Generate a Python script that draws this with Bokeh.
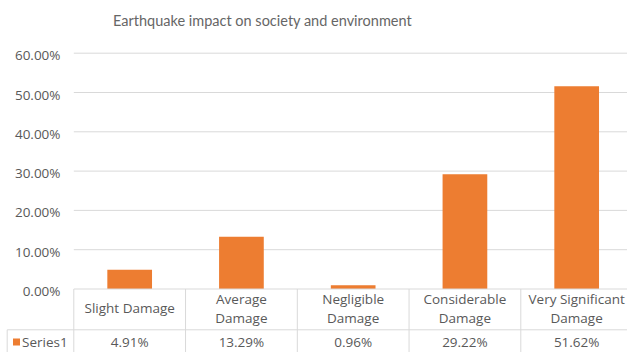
from bokeh.plotting import figure
from bokeh.models import ColumnDataSource, Range1d
from bokeh.core.properties import value
from bokeh.embed import file_html
from bokeh.resources import INLINE

# ---- data -------------------------------------------------------------
categories = ["Slight Damage", "Average\nDamage", "Negligible\nDamage",
              "Considerable\nDamage", "Very Significant\nDamage"]
series_name = "Series1"
impact_pct = [4.91, 13.29, 0.96, 29.22, 51.62]
y_ticks = [0, 10, 20, 30, 40, 50, 60]
title_text = "Earthquake impact on society and environment"

# ---- layout (pixels) --------------------------------------------------
W, H = 627, 352
PLOT_LEFT = 73.3          # left edge of the category area
CAT_W = 111.75            # width of one category column
ZERO_Y = 288.5            # pixel row of the 0% line
PX_PER_PCT = 3.93         # pixels per percentage point
ROW_SPLIT_Y = 329.3       # boundary between category row and value row
TABLE_LEFT = 6.7          # left border of the series-name cell

FONT = "Open Sans"
TITLE_FONT = "Lato"
TXT = "#595959"
TITLE_TXT = "#666666"
LINE = "#D9D9D9"
BAR = "#ED7D31"


def xd(px):
    return (px - PLOT_LEFT) / CAT_W


def yd(px):
    return (ZERO_Y - px) / PX_PER_PCT


p = figure(width=W, height=H, output_backend="svg", toolbar_location=None,
           x_axis_type=None, y_axis_type=None,
           x_range=Range1d(xd(0), xd(W)), y_range=Range1d(yd(H), yd(0)),
           min_border=0, outline_line_color=None,
           background_fill_color="white", border_fill_color="white")
p.grid.visible = False

n = len(categories)
centers = [i + 0.5 for i in range(n)]

# horizontal gridlines
grid_ticks = [t for t in y_ticks if t > 0]
p.segment(x0=[0] * len(grid_ticks), x1=[xd(W)] * len(grid_ticks),
          y0=grid_ticks, y1=grid_ticks, line_color=LINE, line_width=1)

# bars
p.vbar(x=centers, top=impact_pct, bottom=0, width=0.4,
       fill_color=BAR, line_color=None)

# data table: borders
bottom = yd(H)
row_y = yd(ROW_SPLIT_Y)
p.segment(x0=[0, xd(TABLE_LEFT)], x1=[xd(W), xd(W)], y0=[0, row_y], y1=[0, row_y],
          line_color=LINE, line_width=1)
vx = list(range(n + 1))
p.segment(x0=vx, x1=vx, y0=[0] * len(vx), y1=[bottom] * len(vx),
          line_color=LINE, line_width=1)
p.segment(x0=[xd(TABLE_LEFT)], x1=[xd(TABLE_LEFT)], y0=[row_y], y1=[bottom],
          line_color=LINE, line_width=1)

# y tick labels
tick_src = ColumnDataSource(dict(x=[xd(60)] * len(y_ticks), y=y_ticks,
                                 t=[f"{v:.2f}%" for v in y_ticks]))
p.text(x="x", y="y", text="t", source=tick_src, text_align="right",
       text_baseline="middle", y_offset=2, text_font=value(FONT),
       text_font_size="13.5px", text_color=TXT)

# category labels
cat_src = ColumnDataSource(dict(x=centers, y=[yd((ZERO_Y + ROW_SPLIT_Y) / 2)] * n,
                                t=categories))
p.text(x="x", y="y", text="t", source=cat_src, text_align="center",
       text_baseline="middle", text_line_height=1.1, y_offset=-1,
       text_font=value(FONT), text_font_size="13.5px", text_color=TXT)

# value row
val_src = ColumnDataSource(dict(x=centers, y=[yd(341.5)] * n,
                                t=[f"{v:.2f}%" for v in impact_pct]))
p.text(x="x", y="y", text="t", source=val_src, text_align="center",
       text_baseline="middle", text_font=value(FONT),
       text_font_size="13.5px", text_color=TXT)

# series key in the table
p.scatter(x=[xd(16)], y=[yd(341.5)], marker="square", size=7,
          fill_color=BAR, line_color=None)
p.text(x=[xd(21.5)], y=[yd(341.5)], text=[series_name], text_align="left",
       text_baseline="middle", text_font=value(FONT),
       text_font_size="13.5px", text_color=TXT)

# chart title
p.text(x=[xd(262)], y=[yd(20)], text=[title_text], text_align="center",
       text_baseline="middle", text_font=value(TITLE_FONT),
       text_font_size="14.5px", text_color=TITLE_TXT)

open("out.html", "w").write(file_html(p, INLINE))
